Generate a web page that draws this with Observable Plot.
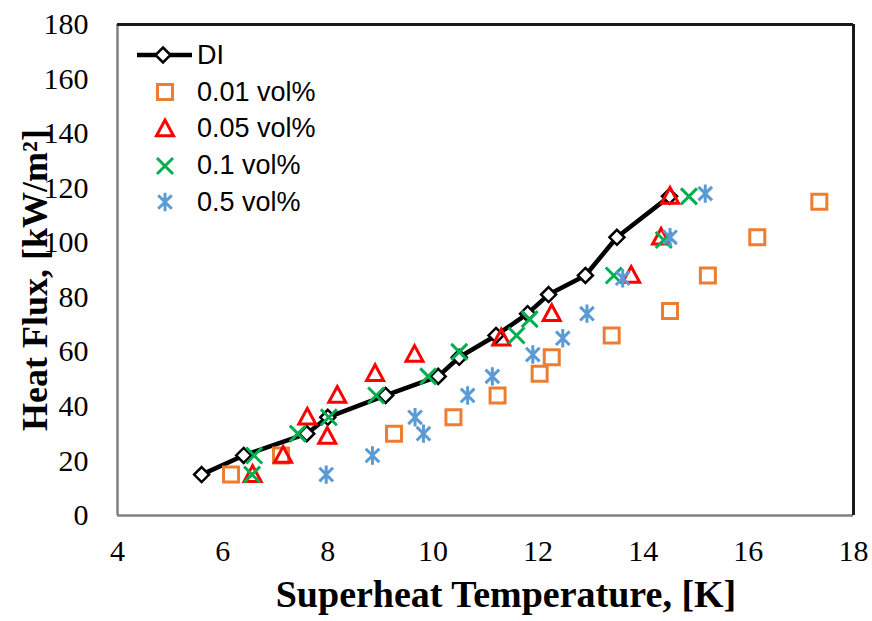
<!DOCTYPE html>
<html><head><meta charset="utf-8">
<script src="https://cdn.jsdelivr.net/npm/d3@7"></script>
<script src="https://cdn.jsdelivr.net/npm/@observablehq/plot@0.6"></script>
<style>
body{margin:0;background:#fff}
#wrap{position:relative;width:872px;height:621px}
#legend{position:absolute;left:130px;top:37px;font-family:"Liberation Sans",Arial,sans-serif;font-size:27px;color:#000;line-height:1}
.row{display:flex;align-items:center;height:36.75px}
.row svg{width:64px;height:36px;flex:none;margin-right:3px}
.axlabel{position:absolute;font-family:"Liberation Serif","Times New Roman",serif;font-weight:bold;color:#000;line-height:1;white-space:nowrap}
#xlab{left:506px;top:575px;font-size:38px;transform:translateX(-50%)}
#ylab{left:35px;top:280px;font-size:36px;transform:translate(-50%,-50%) rotate(-90deg)}
</style>
</head><body>
<div id="wrap"><div id="chart"></div><div id="legend"></div>
<div id="xlab" class="axlabel"></div><div id="ylab" class="axlabel"></div></div>
<script>
// ---- data ----
const xTicks = [4, 6, 8, 10, 12, 14, 16, 18];
const yTicks = [0, 20, 40, 60, 80, 100, 120, 140, 160, 180];
const xLabel = "Superheat Temperature, [K]";
const yLabel = "Heat Flux, [kW/m²]";
const seriesNames = ["DI", "0.01 vol%", "0.05 vol%", "0.1 vol%", "0.5 vol%"];

const diX = [5.6, 6.4, 7.6, 8.0, 9.1, 10.1, 10.5, 11.2, 11.8, 12.2, 12.9, 13.5, 14.5];
const diY = [15, 22, 30, 36, 44, 51, 58, 66, 74, 81, 88, 102, 117];

const v001X = [6.16, 7.11, 9.26, 10.39, 11.23, 12.03, 12.26, 13.4, 14.51, 15.23, 16.17, 17.35];
const v001Y = [15, 22, 30, 36, 44, 52, 58, 66, 75, 88, 102, 115];

const v005X = [6.57, 7.15, 7.61, 7.99, 8.18, 8.9, 9.65, 11.3, 12.26, 13.77, 14.34, 14.51];
const v005Y = [15, 22, 36, 29, 44, 52, 59, 65, 74, 88, 102, 117];

const v01X = [6.56, 6.6, 7.43, 8.02, 8.92, 9.91, 10.5, 11.59, 11.84, 13.44, 14.39, 14.87];
const v01Y = [15, 22, 30, 36, 44, 51, 60, 66, 72, 88, 101, 117];

const v05X = [7.97, 8.85, 9.66, 9.82, 10.66, 11.13, 11.9, 12.47, 12.93, 13.61, 14.51, 15.18];
const v05Y = [15, 22, 36, 30, 44, 51, 59, 65, 74, 87, 102, 118];

// ---- symbols ----
const rad = s => Math.sqrt(s / Math.PI);
const diamondSym = {draw(c, s){const r = rad(s); c.moveTo(0,-r); c.lineTo(r,0); c.lineTo(0,r); c.lineTo(-r,0); c.closePath();}};
const squareSym = {draw(c, s){const r = rad(s); c.moveTo(-r,-r); c.lineTo(r,-r); c.lineTo(r,r); c.lineTo(-r,r); c.closePath();}};
const triSym = {draw(c, s){const r = rad(s); c.moveTo(0,-r*1.05); c.lineTo(r,r*0.8); c.lineTo(-r,r*0.8); c.closePath();}};
const timesSym = {draw(c, s){const r = rad(s); c.moveTo(-r,-r); c.lineTo(r,r); c.moveTo(r,-r); c.lineTo(-r,r);}};
const starSym = {draw(c, s){const r = rad(s); const a = r*0.85; c.moveTo(-a,-a); c.lineTo(a,a); c.moveTo(a,-a); c.lineTo(-a,a); c.moveTo(0,-r*1.15); c.lineTo(0,r*1.15);}};

const rows = (xs, ys) => xs.map((x, i) => ({x, y: ys[i]}));
const di = rows(diX, diY), s001 = rows(v001X, v001Y), s005 = rows(v005X, v005Y),
      s01 = rows(v01X, v01Y), s05 = rows(v05X, v05Y);

const styles = [
  {sym: diamondSym, r: 7.5, fill: "#fff", stroke: "#000", sw: 2.5},
  {sym: squareSym, r: 7.5, fill: "none", stroke: "#ED7D31", sw: 3},
  {sym: triSym, r: 8.5, fill: "none", stroke: "#FF0000", sw: 3},
  {sym: timesSym, r: 8, fill: "none", stroke: "#00B050", sw: 3},
  {sym: starSym, r: 8, fill: "none", stroke: "#5B9BD5", sw: 3}
];
const sets = [di, s001, s005, s01, s05];

const dotMark = (data, st) => Plot.dot(data, {x: "x", y: "y", symbol: st.sym, r: st.r, fill: st.fill, stroke: st.stroke, strokeWidth: st.sw});

const chart = Plot.plot({
  width: 872, height: 621,
  marginLeft: 117, marginRight: 19, marginTop: 24, marginBottom: 106,
  style: {fontFamily: "'Liberation Serif', 'Times New Roman', serif", background: "#fff", color: "#000"},
  x: {domain: [4, 18]},
  y: {domain: [0, 180]},
  marks: [
    Plot.axisX({ticks: xTicks, tickSize: 0, tickPadding: 24, fontSize: 30, label: null}),
    Plot.axisY({ticks: yTicks, tickSize: 0, tickPadding: 29, fontSize: 30, label: null}),
    Plot.line(di, {x: "x", y: "y", stroke: "#000", strokeWidth: 4.5}),
    ...sets.map((d, i) => dotMark(d, styles[i])),
    Plot.ruleY([0], {stroke: "#808080", strokeWidth: 2.5}),
    Plot.ruleX([4], {stroke: "#808080", strokeWidth: 2.5}),
    Plot.ruleY([180], {stroke: "#1a1a1a", strokeWidth: 3}),
    Plot.ruleX([18], {stroke: "#1a1a1a", strokeWidth: 3})
  ]
});
document.getElementById("chart").append(chart);
document.getElementById("xlab").textContent = xLabel;
document.getElementById("ylab").textContent = yLabel;

// ---- legend ----
const leg = d3.select("#legend");
seriesNames.forEach((name, i) => {
  const st = styles[i];
  const row = leg.append("div").attr("class", "row");
  const svg = row.append("svg").attr("viewBox", "0 0 64 36");
  const cx = i === 0 ? 33 : 35;
  if (i === 0) svg.append("line").attr("x1", 7).attr("x2", 62).attr("y1", 18).attr("y2", 18).attr("stroke", "#000").attr("stroke-width", 4.5);
  const p = d3.path(); st.sym.draw(p, st.r * st.r * Math.PI);
  svg.append("path").attr("d", p.toString()).attr("transform", `translate(${cx},18)`)
    .attr("fill", st.fill).attr("stroke", st.stroke).attr("stroke-width", st.sw);
  row.append("span").text(name);
});
</script>
</body></html>
